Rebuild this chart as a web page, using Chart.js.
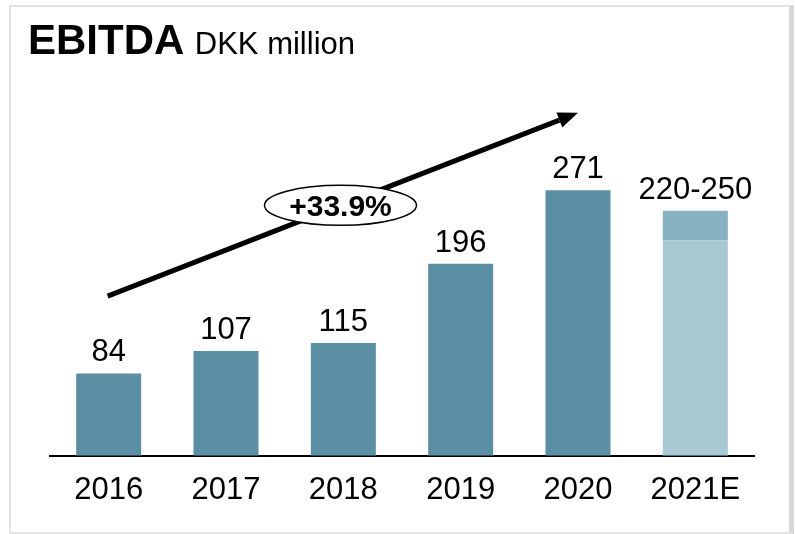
<!DOCTYPE html>
<html>
<head>
<meta charset="utf-8">
<script src="https://cdn.jsdelivr.net/npm/chart.js@4/dist/chart.umd.min.js"></script>
<style>
  html, body { margin: 0; padding: 0; background: #fff; }
  #wrap { position: relative; width: 795px; height: 534px; }
  #frame {
    position: absolute; left: 9px; top: 5px; width: 778px; height: 525px;
    border: 2px solid #e4e4e4; border-right: 5px solid #d8d8d8;
  }
  #title {
    position: absolute; left: 28px; top: 16px;
    font-family: "Liberation Sans", Arial, sans-serif; color: #000; white-space: nowrap;
  }
  #title b { font-size: 42px; }
  #title span { font-size: 31px; margin-left: 6px; }
  canvas { position: absolute; left: 0; top: 0; }
</style>
</head>
<body>
<div id="wrap">
  <div id="frame"></div>
  <canvas id="chart" width="795" height="534"></canvas>
  <div id="title"><b>EBITDA</b> <span>DKK million</span></div>
</div>
<script>
const years = ['2016', '2017', '2018', '2019', '2020', '2021E'];
const actual = [84, 107, 115, 196, 271, null];
const guideLow = [null, null, null, null, null, 220];
const guideRange = [null, null, null, null, null, 30];
const valueLabels = ['84', '107', '115', '196', '271', '220-250'];
const growthText = '+33.9%';

const FONT = '"Liberation Sans", Arial, sans-serif';

// etiquetas encima de cada barra + flecha de crecimiento
const extras = {
  id: 'extras',
  afterDatasetsDraw(chart) {
    const ctx = chart.ctx;
    const x = chart.scales.x, y = chart.scales.y;
    ctx.save();
    ctx.fillStyle = '#000';
    ctx.font = '31px ' + FONT;
    ctx.textAlign = 'center';
    ctx.textBaseline = 'alphabetic';
    years.forEach((yr, i) => {
      const top = (actual[i] != null ? actual[i] : guideLow[i] + guideRange[i]);
      ctx.fillText(valueLabels[i], x.getPixelForValue(i), y.getPixelForValue(top) - 12);
    });

    // flecha
    const x0 = x.getPixelForValue(0) - 1, y0 = y.getPixelForValue(163);
    const x1 = x.getPixelForValue(4), y1 = y.getPixelForValue(350);
    const ang = Math.atan2(y1 - y0, x1 - x0);
    const head = 20, half = 8;
    const bx = x1 - head * Math.cos(ang), by = y1 - head * Math.sin(ang);
    ctx.strokeStyle = '#000';
    ctx.lineWidth = 5;
    ctx.beginPath();
    ctx.moveTo(x0, y0);
    ctx.lineTo(bx, by);
    ctx.stroke();
    ctx.beginPath();
    ctx.moveTo(x1, y1);
    ctx.lineTo(bx + half * Math.sin(ang), by - half * Math.cos(ang));
    ctx.lineTo(bx - half * Math.sin(ang), by + half * Math.cos(ang));
    ctx.closePath();
    ctx.fill();

    // elipse con el crecimiento
    const t = 0.495;
    const ex = x0 + (x1 - x0) * t, ey = y0 + (y1 - y0) * t;
    ctx.beginPath();
    ctx.ellipse(ex, ey, 76, 20, 0, 0, Math.PI * 2);
    ctx.fillStyle = '#fff';
    ctx.fill();
    ctx.lineWidth = 1.5;
    ctx.stroke();
    ctx.fillStyle = '#000';
    ctx.font = 'bold 30px ' + FONT;
    ctx.textBaseline = 'middle';
    ctx.fillText(growthText, ex, ey + 2);
    ctx.restore();
  }
};

new Chart(document.getElementById('chart'), {
  type: 'bar',
  data: {
    labels: years,
    datasets: [
      { data: actual, backgroundColor: '#5a8fa4' },
      { data: guideLow, backgroundColor: '#a8c8d4' },
      { data: guideRange, backgroundColor: '#87b0c1' }
    ]
  },
  options: {
    responsive: false,
    animation: false,
    events: [],
    layout: { padding: { left: 50, right: 41, top: 103, bottom: 9 } },
    datasets: { bar: { barPercentage: 0.554, categoryPercentage: 1, stack: 's' } },
    plugins: { legend: { display: false }, tooltip: { enabled: false } },
    scales: {
      x: {
        stacked: true,
        grid: { display: false, drawTicks: false },
        border: { display: true, color: '#000', width: 2 },
        ticks: { color: '#000', font: { family: FONT, size: 31 }, padding: 16 }
      },
      y: {
        stacked: true,
        display: false,
        min: 0,
        max: 360
      }
    }
  },
  plugins: [extras]
});
</script>
</body>
</html>
